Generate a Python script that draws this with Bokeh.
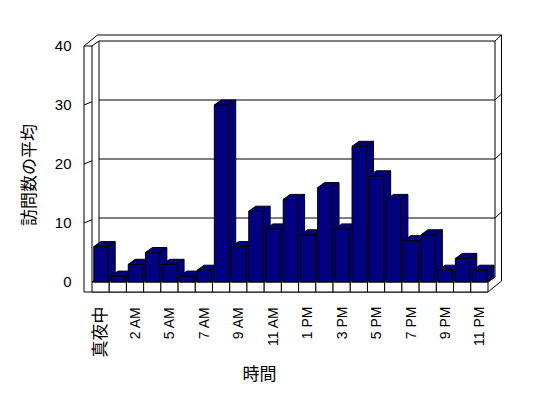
import math
from bokeh.plotting import figure
from bokeh.models import Range1d
from bokeh.core.properties import value
from bokeh.embed import file_html
from bokeh.resources import INLINE

# ---- data ----
hours = ["真夜中", "1 AM", "2 AM", "3 AM", "5 AM", "6 AM", "7 AM", "8 AM", "9 AM",
         "10 AM", "11 AM", "正午", "1 PM", "2 PM", "3 PM", "4 PM", "5 PM", "6 PM",
         "7 PM", "8 PM", "9 PM", "10 PM", "11 PM"]
visits = [6, 1, 3, 5, 3, 1, 2, 30, 6, 12, 9, 14, 8, 16, 9, 23, 18, 14, 7, 8, 2, 4, 2]
y_ticks = [0, 10, 20, 30, 40]
y_title = "訪問数の平均"
x_title = "時間"

# ---- layout (pixels) ----
W, H = 548, 398
PX = (487.5 - 91.5) / 23   # px per category
PY = 5.9                   # px per value unit
X0PX = 91.5 + PX / 2       # px of category 0 centre
Y0PX = 281.5               # px of value 0 (front plane)

def dx(px):
    return px / PX

def dy(px):
    return px / PY

def X(px):
    return (px - X0PX) / PX

def Y(py):
    return (Y0PX - py) / PY

DX, DY = dx(7.0), dy(5.0)      # depth of series
TX, TY = dx(6.5), dy(6.0)      # wall thickness
SW = dx(8.0)                   # side wall thickness
FL = dy(10.0)                  # floor thickness
GAP, BW = dx(1.8), dx(14.4)    # bar gap / front width

FONT = "'Liberation Sans', 'Noto Sans CJK JP'"
NAVY = "#000080"

p = figure(width=W, height=H, output_backend="svg", toolbar_location=None,
           x_range=Range1d(X(0), X(W)), y_range=Range1d(Y(H), Y(0)),
           x_axis_location=None, y_axis_location=None, min_border=0)
p.outline_line_color = None
p.grid.visible = False
p.background_fill_color = "white"
p.border_fill_color = "white"

n = len(hours)
xl, xr, top = -0.5, n - 0.5, float(y_ticks[-1])
xo = xl - SW

# walls
segs = [
    ((xo, -FL), (xo, top)),
    ((xl, 0), (xl, top)),
    ((xo, top), (xl, top)),
    ((xo, top), (xo + DX + TX, top + DY + TY)),
    ((xl, top), (xl + DX, top + DY)),
    ((xo + DX + TX, top + DY + TY), (xr + DX + TX, top + DY + TY)),
    ((xl + DX, top + DY), (xr + DX, top + DY)),
    ((xr + DX, top + DY), (xr + DX, DY)),
    ((xr + DX + TX, top + DY + TY), (xr + DX + TX, -FL + DY + TY)),
    ((xr + DX, top + DY), (xr + DX + TX, top + DY + TY)),
    ((xr, -FL), (xr + DX + TX, -FL + DY + TY)),
    ((xr, 0), (xr + DX, DY)),
    ((xl + DX, top + DY), (xl + DX, DY)),
    ((xo, -FL), (xr, -FL)),
]
for v in y_ticks[1:-1]:
    segs.append(((xl + DX, v + DY), (xr + DX, v + DY)))
    segs.append(((xr + DX, v + DY), (xr + DX + TX, v + DY + TY)))
    segs.append(((xo, v), (xl, v + dy(3.3))))

p.segment(x0=[s[0][0] for s in segs], y0=[s[0][1] for s in segs],
          x1=[s[1][0] for s in segs], y1=[s[1][1] for s in segs],
          line_color="black", line_width=1)

# floor top surface
p.patch([xl, xr, xr + DX, xl + DX], [0, 0, DY, DY],
        fill_color="white", line_color="black", line_width=1)

# floor front cells
p.quad(left=[i - 0.5 for i in range(n)], right=[i + 0.5 for i in range(n)],
       bottom=[-FL] * n, top=[0] * n,
       fill_color="white", line_color="black", line_width=1)

# 3-D bars (front, top, side for each, left to right)
xs, ys = [], []
for i, v in enumerate(visits):
    a = i - 0.5 + GAP
    b = a + BW
    xs.append([a, b, b, a]); ys.append([0, 0, v, v])
    xs.append([a, b, b + DX, a + DX]); ys.append([v, v, v + DY, v + DY])
    xs.append([b, b + DX, b + DX, b]); ys.append([0, DY, v + DY, v])
p.patches(xs, ys, fill_color=NAVY, line_color="black", line_width=1)

# titles
p.text(x=[X(29)], y=[Y(174.5)], text=[y_title], angle=math.pi / 2,
       text_align="center", text_baseline="middle",
       text_font=value(FONT), text_font_size="17px", text_color="#000000")
p.text(x=[X(259)], y=[Y(374)], text=[x_title],
       text_align="center", text_baseline="middle",
       text_font=value(FONT), text_font_size="17px", text_color="#000000")

# x tick labels (every other category); CJK labels slightly larger
idx = list(range(0, n, 2))
for ascii_group, size in ((False, "17px"), (True, "14px")):
    sel = [i for i in idx if hours[i].isascii() == ascii_group]
    if not sel:
        continue
    p.text(x=sel, y=[Y(306)] * len(sel), text=[hours[i] for i in sel],
           angle=math.pi / 2, text_align="right", text_baseline="middle",
           text_font=value(FONT), text_font_size=size, text_color="#000000")

# y tick labels
p.text(x=[X(71)] * len(y_ticks), y=y_ticks, text=[str(t) for t in y_ticks],
       text_align="right", text_baseline="middle",
       text_font=value(FONT), text_font_size="15px", text_color="#000000")

open("out.html", "w").write(file_html(p, INLINE))
